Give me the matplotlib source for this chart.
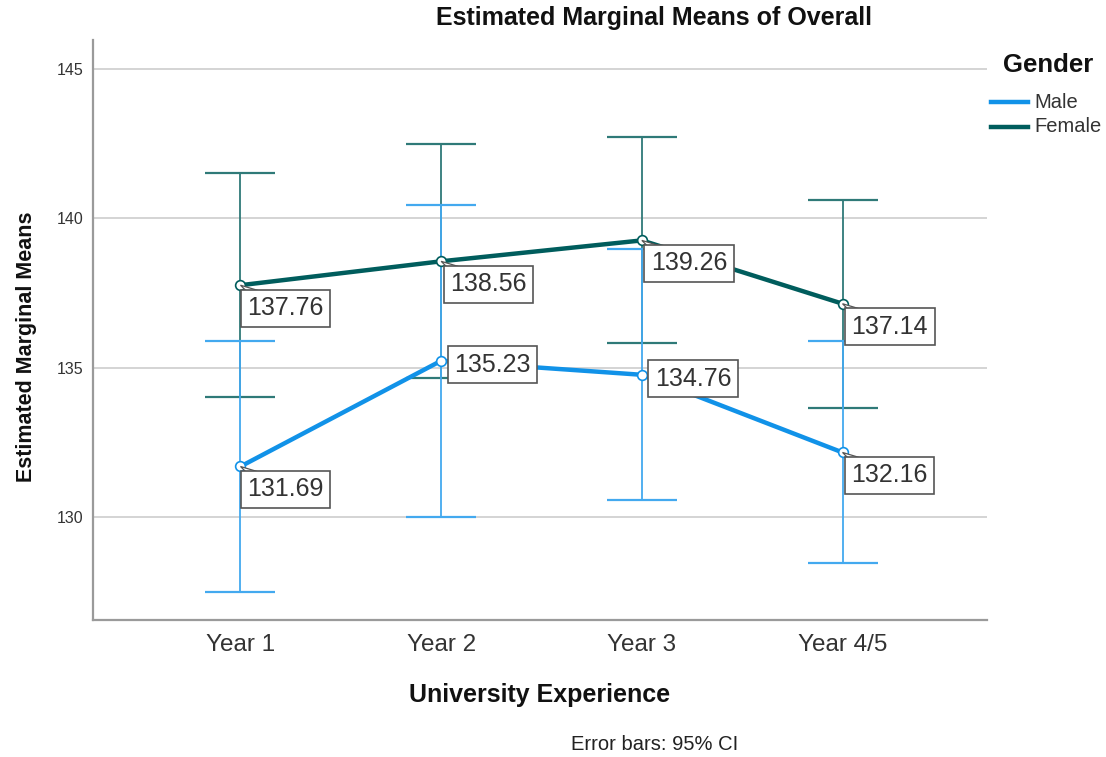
import matplotlib
matplotlib.use("Agg")
import matplotlib.pyplot as plt
from matplotlib.lines import Line2D
from matplotlib.patches import Polygon

plt.rcParams['font.family'] = ['Liberation Sans', 'DejaVu Sans']

# Data
categories = ["Year 1", "Year 2", "Year 3", "Year 4/5"]
male_mean = [131.69, 135.23, 134.76, 132.16]
male_lo = [127.50, 130.00, 130.57, 128.46]
male_hi = [135.90, 140.46, 138.97, 135.88]
female_mean = [137.76, 138.56, 139.26, 137.14]
female_lo = [134.00, 134.64, 135.82, 133.66]
female_hi = [141.53, 142.49, 142.71, 140.61]
yticks = [130, 135, 140, 145]

male_color = "#1192e8"
female_color = "#005d5d"
male_err = "#43a9ef"
female_err = "#2f7a78"

W, H = 1106, 757
fig = plt.figure(figsize=(W / 100, H / 100), dpi=100)
ax = fig.add_axes([93 / W, 1 - 620 / H, (987 - 93) / W, (620 - 40) / H])

x = list(range(len(categories)))

# gridlines
for t in yticks:
    ax.axhline(t, color="#d4d4d4", lw=1.4, zorder=0)

# error bars
for means, lo, hi, c in [(female_mean, female_lo, female_hi, female_err),
                         (male_mean, male_lo, male_hi, male_err)]:
    yerr = [[m - l for m, l in zip(means, lo)], [h - m for m, h in zip(means, hi)]]
    ax.errorbar(x, means, yerr=yerr, fmt="none", ecolor=c, elinewidth=1.3,
                capsize=25, capthick=1.6, zorder=2)

# lines
ax.plot(x, male_mean, color=male_color, lw=3.2, zorder=3,
        marker="o", ms=7, mfc="white", mec=male_color, mew=1.2)
ax.plot(x, female_mean, color=female_color, lw=3.2, zorder=3,
        marker="o", ms=7, mfc="white", mec=female_color, mew=1.2)

ax.set_xlim(-0.735, 3.72)
ax.set_ylim(126.55, 145.97)
ax.set_yticks(yticks)
ax.set_yticklabels([str(t) for t in yticks], fontsize=11.5, color="#333333")
ax.set_xticks(x)
ax.set_xticklabels(categories, fontsize=17.5, color="#333333")
ax.tick_params(axis="both", length=0)
ax.tick_params(axis="y", pad=7)
ax.tick_params(axis="x", pad=10)
for s in ["top", "right"]:
    ax.spines[s].set_visible(False)
for s in ["left", "bottom"]:
    ax.spines[s].set_color("#9a9a9a")
    ax.spines[s].set_linewidth(1.6)

# value labels with small callout pointers
def label(xi, yi, dx, dy):
    tr = ax.transData
    px, py = tr.transform((xi, yi))
    ax.annotate(f"{yi:.2f}", xy=(xi, yi), xytext=(dx, dy),
                textcoords="offset pixels", ha="left", va="top",
                fontsize=18, color="#333333", zorder=6,
                bbox=dict(boxstyle="square,pad=0.26", fc="white",
                          ec="#555555", lw=1.2))
    # wedge from the point to the box top
    if dy < 0:
        inv = tr.inverted()
        p0 = inv.transform((px, py))
        p1 = inv.transform((px + 6, py + dy + 5))
        p2 = inv.transform((px + 20, py + dy + 5))
        ax.add_patch(Polygon([p0, p1, p2], closed=True, fc="white",
                             ec="#555555", lw=0.9, zorder=5))

offsets_m = [(7, -11), (13, 8), (13, 8), (9, -11)]
offsets_f = [(7, -11), (9, -11), (9, -11), (9, -11)]
for xi, yi, (dx, dy) in zip(x, male_mean, offsets_m):
    label(xi, yi, dx, dy)
for xi, yi, (dx, dy) in zip(x, female_mean, offsets_f):
    label(xi, yi, dx, dy)

# titles and axis labels
fig.text(654 / W, 1 - 18 / H, "Estimated Marginal Means of Overall",
         ha="center", va="center", fontsize=18, fontweight="bold", color="#111111")
fig.text(27 / W, 1 - 347 / H, "Estimated Marginal Means", rotation=90,
         ha="center", va="center", fontsize=15.5, fontweight="bold", color="#111111")
fig.text(540 / W, 1 - 695 / H, "University Experience",
         ha="center", va="center", fontsize=18, fontweight="bold", color="#111111")
fig.text(655 / W, 1 - 745 / H, "Error bars: 95% CI",
         ha="center", va="center", fontsize=14.5, color="#222222")

# legend
fig.text(1003 / W, 1 - 65 / H, "Gender", ha="left", va="center",
         fontsize=18.5, fontweight="bold", color="#111111")
for yy, name, c in [(102, "Male", male_color), (127, "Female", female_color)]:
    fig.add_artist(Line2D([991 / W, 1028 / W], [1 - yy / H, 1 - yy / H],
                          color=c, lw=3.2))
    fig.text(1034 / W, 1 - yy / H, name, ha="left", va="center",
             fontsize=14.5, color="#333333")

fig.savefig("out.png", dpi=100)
